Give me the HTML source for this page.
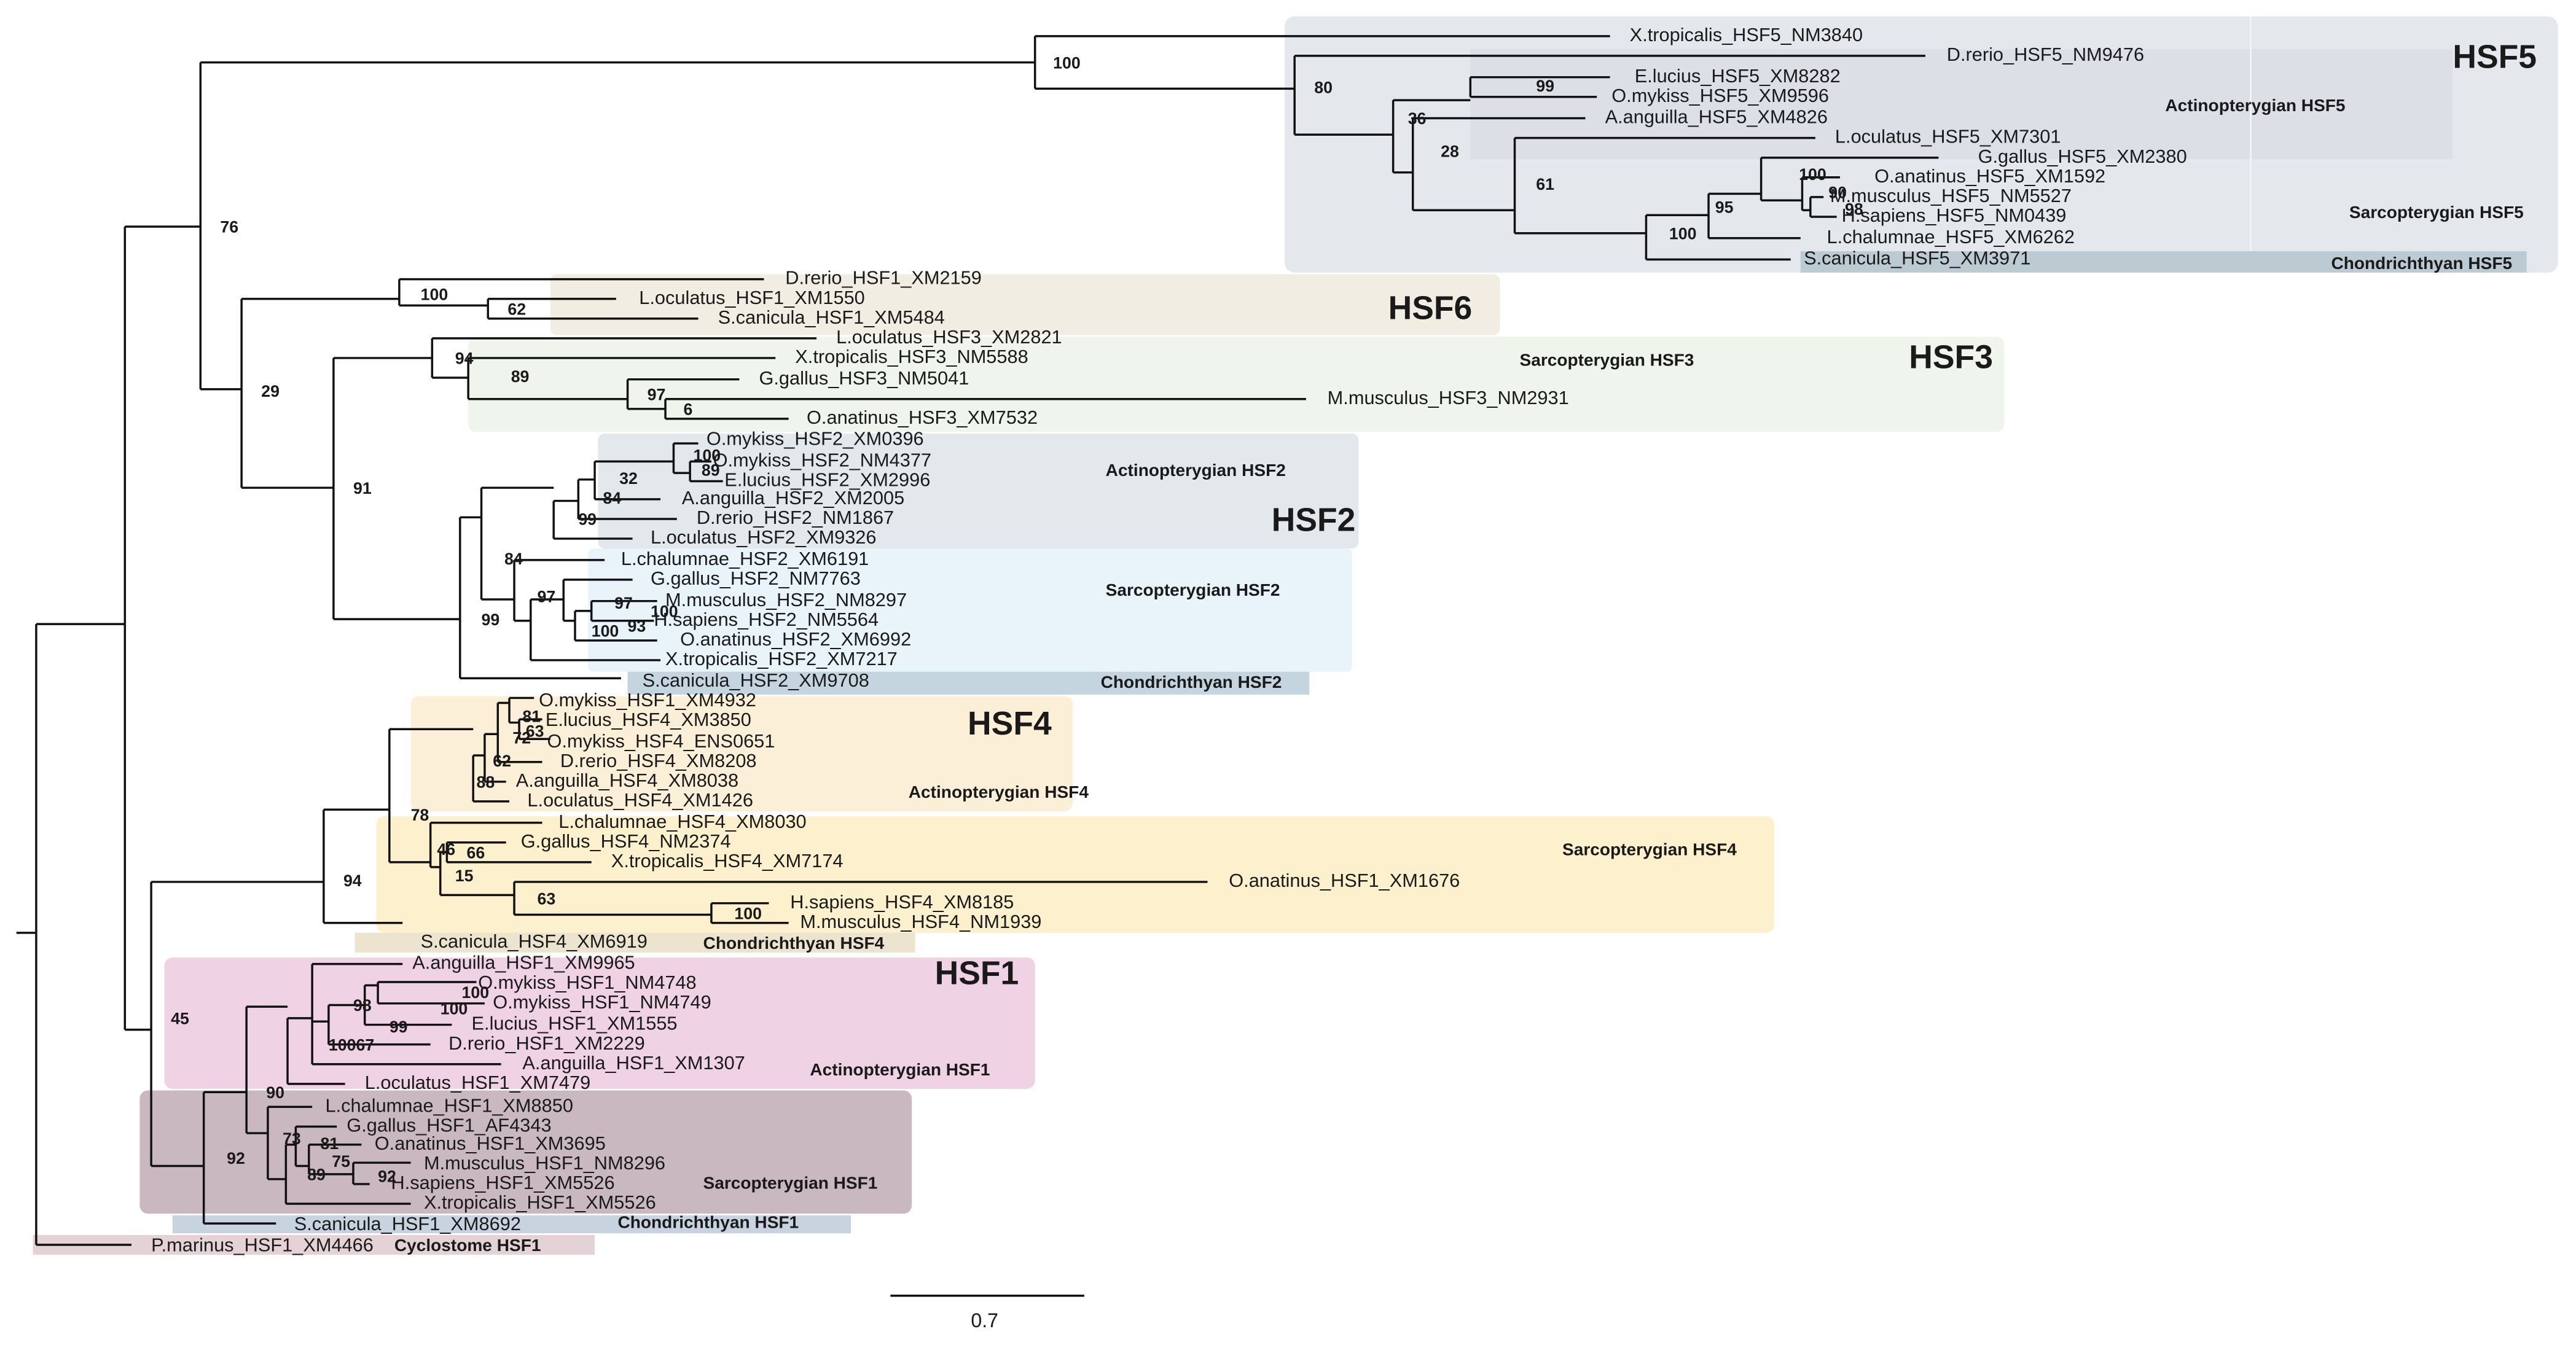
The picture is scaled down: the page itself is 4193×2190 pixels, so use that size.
<!DOCTYPE html>
<html><head><meta charset="utf-8"><style>
html,body{margin:0;padding:0;background:#fff;}
svg{display:block}
text{font-family:"Liberation Sans",Arial,sans-serif;fill:#1a1a1a;dominant-baseline:middle}
.l{font-size:11.5px}
.b{font-size:10px;font-weight:bold}
.r{font-size:10.5px;font-weight:bold}
.h{font-size:20px;font-weight:bold}
</style></head><body>
<svg width="4193" height="2190" viewBox="0 0 1568 819" xmlns="http://www.w3.org/2000/svg">
<rect x="0" y="0" width="1568" height="819" fill="#fff"/>
<!-- boxes -->
<rect x="782" y="10" width="775" height="156" rx="6" fill="#e4e8ec"/>
<rect x="895" y="30" width="598" height="67" fill="#dcdfe6"/>
<line x1="1370" y1="10" x2="1370" y2="166" stroke="#f2f4f6" stroke-width="1"/>
<rect x="1096" y="153" width="442" height="13" fill="#bccad3"/>
<rect x="335" y="167" width="578" height="37" rx="4" fill="#f1ede2"/>
<rect x="285" y="205" width="935" height="58" rx="5" fill="#eff4ec"/>
<rect x="364" y="264" width="463" height="70" rx="4" fill="#e2e8ec"/>
<rect x="358" y="334" width="465" height="75" rx="3" fill="#e8f3fa"/>
<rect x="382" y="409" width="415" height="14" fill="#c5d5df"/>
<rect x="250" y="424" width="403" height="70" rx="5" fill="#fcefd7"/>
<rect x="229" y="497" width="851" height="71" rx="5" fill="#fdf0cc"/>
<rect x="216" y="568" width="341" height="12" fill="#ece4cf"/>
<rect x="100" y="583" width="530" height="80" rx="5" fill="#efd2e3"/>
<rect x="85" y="664" width="470" height="75" rx="5" fill="#c9b8c0"/>
<rect x="105" y="740" width="413" height="11" fill="#c8d3e0"/>
<rect x="20" y="752" width="342" height="12" fill="#e4d2d6"/>
<!-- tree -->
<path fill="none" stroke="#111" stroke-width="1.3" d="
M10 568H22 M22 380V758 M22 380H76 M76 138V627 M76 138H122 M122 38V237 M122 38H630 M122 237H147
M147 182V297 M147 182H243 M147 297H203
M243 170V186 M243 170H465 M243 186H297 M297 182V194 M297 182H375 M297 194H425
M203 218V377 M203 218H263 M203 377H280
M263 206V230 M263 206H497 M263 230H285 M285 218V243 M285 218H472 M285 243H382 M382 231V249 M382 231H450 M382 249H405 M405 243V255 M405 243H795 M405 255H480
M280 315V413 M280 315H293 M280 413H378
M293 297V365 M293 297H337 M293 365H313
M313 341V378 M313 341H368 M313 378H323 M323 365V402 M323 402H402 M323 365H343 M343 353V378 M343 353H385 M343 378H350 M350 372V390 M350 372H360 M360 366V378 M360 366H400 M360 378H398 M350 390H400
M337 305V328 M337 328H385 M337 305H352 M352 292V316 M352 316H412 M352 292H362 M362 281V304 M362 304H402 M362 281H410 M410 270V288 M410 270H425 M410 288H420 M420 281V293 M420 281H433 M420 293H440
M630 22V54 M630 22H980 M630 54H788 M788 34V82 M788 34H1172 M788 82H848 M848 61V105 M848 61H895 M895 47V59 M895 47H980 M895 59H972 M848 105H860 M860 72V128 M860 72H965 M860 128H922 M922 84V142 M922 84H1105 M922 142H1002 M1002 131V158 M1002 158H1090 M1002 131H1040 M1040 118V145 M1040 145H1096 M1040 118H1072 M1072 96V122 M1072 96H1180 M1072 122H1097 M1097 108V128 M1097 108H1120 M1097 128H1102 M1102 120V132 M1102 120H1110 M1102 132H1118
M76 627H92 M92 537V710 M92 537H197 M92 710H124 M124 665V745 M124 745H168 M124 665H150 M150 613V690 M150 613H175 M150 690H163
M163 674V718 M163 674H190 M163 718H174 M174 697V733 M174 733H250 M174 697H180 M180 686V710 M180 686H205 M180 710H188 M188 697V715 M188 697H220 M188 715H215 M215 708V721 M215 708H250 M215 721H225
M175 620V660 M175 660H210 M175 620H190 M190 587V648 M190 587H245 M190 648H305 M190 622H200 M200 612V636 M200 636H262 M200 612H222 M222 600V624 M222 624H275 M222 600H230 M230 598V611 M230 598H290 M230 611H295
M197 493V562 M197 562H245 M197 493H237 M237 444V525 M237 444H288 M237 525H262
M262 501V528 M262 501H330 M262 528H268 M268 519V545 M268 519H272 M272 513V525 M272 513H308 M272 525H360 M268 545H313 M313 537V557 M313 537H735 M313 557H433 M433 550V562 M433 550H468 M433 562H480
M288 460V488 M288 488H310 M288 460H295 M295 447V476 M295 476H308 M295 447H303 M303 428V464 M303 464H330 M303 428H310 M310 425V440 M310 425H325 M310 440H316 M316 438V450 M316 438H330 M316 450H335
M22 758H80
M542 789H660"/>
<!-- leaf labels -->
<g class="l">
<text x="992" y="22">X.tropicalis_HSF5_NM3840</text>
<text x="1185" y="34">D.rerio_HSF5_NM9476</text>
<text x="995" y="47">E.lucius_HSF5_XM8282</text>
<text x="981" y="59">O.mykiss_HSF5_XM9596</text>
<text x="977" y="72">A.anguilla_HSF5_XM4826</text>
<text x="1117" y="84">L.oculatus_HSF5_XM7301</text>
<text x="1204" y="96">G.gallus_HSF5_XM2380</text>
<text x="1141" y="108">O.anatinus_HSF5_XM1592</text>
<text x="1114" y="120">M.musculus_HSF5_NM5527</text>
<text x="1121" y="132">H.sapiens_HSF5_NM0439</text>
<text x="1112" y="145">L.chalumnae_HSF5_XM6262</text>
<text x="1098" y="158">S.canicula_HSF5_XM3971</text>
<text x="478" y="170">D.rerio_HSF1_XM2159</text>
<text x="389" y="182">L.oculatus_HSF1_XM1550</text>
<text x="437" y="194">S.canicula_HSF1_XM5484</text>
<text x="509" y="206">L.oculatus_HSF3_XM2821</text>
<text x="484" y="218">X.tropicalis_HSF3_NM5588</text>
<text x="462" y="231">G.gallus_HSF3_NM5041</text>
<text x="808" y="243">M.musculus_HSF3_NM2931</text>
<text x="491" y="255">O.anatinus_HSF3_XM7532</text>
<text x="430" y="268">O.mykiss_HSF2_XM0396</text>
<text x="434" y="281">O.mykiss_HSF2_NM4377</text>
<text x="441" y="293">E.lucius_HSF2_XM2996</text>
<text x="415" y="304">A.anguilla_HSF2_XM2005</text>
<text x="424" y="316">D.rerio_HSF2_NM1867</text>
<text x="396" y="328">L.oculatus_HSF2_XM9326</text>
<text x="378" y="341">L.chalumnae_HSF2_XM6191</text>
<text x="396" y="353">G.gallus_HSF2_NM7763</text>
<text x="405" y="366">M.musculus_HSF2_NM8297</text>
<text x="398" y="378">H.sapiens_HSF2_NM5564</text>
<text x="414" y="390">O.anatinus_HSF2_XM6992</text>
<text x="405" y="402">X.tropicalis_HSF2_XM7217</text>
<text x="391" y="415">S.canicula_HSF2_XM9708</text>
<text x="328" y="427">O.mykiss_HSF1_XM4932</text>
<text x="332" y="439">E.lucius_HSF4_XM3850</text>
<text x="333" y="452">O.mykiss_HSF4_ENS0651</text>
<text x="341" y="464">D.rerio_HSF4_XM8208</text>
<text x="314" y="476">A.anguilla_HSF4_XM8038</text>
<text x="321" y="488">L.oculatus_HSF4_XM1426</text>
<text x="340" y="501">L.chalumnae_HSF4_XM8030</text>
<text x="317" y="513">G.gallus_HSF4_NM2374</text>
<text x="372" y="525">X.tropicalis_HSF4_XM7174</text>
<text x="748" y="537">O.anatinus_HSF1_XM1676</text>
<text x="481" y="550">H.sapiens_HSF4_XM8185</text>
<text x="487" y="562">M.musculus_HSF4_NM1939</text>
<text x="256" y="574">S.canicula_HSF4_XM6919</text>
<text x="251" y="587">A.anguilla_HSF1_XM9965</text>
<text x="291" y="599">O.mykiss_HSF1_NM4748</text>
<text x="300" y="611">O.mykiss_HSF1_NM4749</text>
<text x="287" y="624">E.lucius_HSF1_XM1555</text>
<text x="273" y="636">D.rerio_HSF1_XM2229</text>
<text x="318" y="648">A.anguilla_HSF1_XM1307</text>
<text x="222" y="660">L.oculatus_HSF1_XM7479</text>
<text x="198" y="674">L.chalumnae_HSF1_XM8850</text>
<text x="211" y="686">G.gallus_HSF1_AF4343</text>
<text x="228" y="697">O.anatinus_HSF1_XM3695</text>
<text x="258" y="709">M.musculus_HSF1_NM8296</text>
<text x="238" y="721">H.sapiens_HSF1_XM5526</text>
<text x="258" y="733">X.tropicalis_HSF1_XM5526</text>
<text x="179" y="746">S.canicula_HSF1_XM8692</text>
<text x="92" y="759">P.marinus_HSF1_XM4466</text>
</g>
<!-- bootstrap -->
<g class="b">
<text x="641" y="39">100</text><text x="134" y="139">76</text><text x="159" y="239">29</text>
<text x="256" y="180">100</text><text x="309" y="189">62</text><text x="215" y="298">91</text>
<text x="277" y="219">94</text><text x="311" y="230">89</text><text x="394" y="241">97</text><text x="416" y="250">6</text>
<text x="800" y="54">80</text><text x="935" y="53">99</text><text x="857" y="73">36</text><text x="877" y="93">28</text>
<text x="935" y="113">61</text><text x="1044" y="127">95</text><text x="1016" y="143">100</text>
<text x="1095" y="107">100</text><text x="1113" y="118">90</text><text x="1123" y="128">98</text>
<text x="377" y="292">32</text><text x="367" y="304">84</text><text x="352" y="317">99</text>
<text x="422" y="278">100</text><text x="427" y="287">89</text>
<text x="307" y="341">84</text><text x="327" y="364">97</text><text x="293" y="378">99</text>
<text x="374" y="368">97</text><text x="396" y="373">100</text><text x="360" y="385">100</text><text x="382" y="382">93</text>
<text x="318" y="437">81</text><text x="320" y="446">63</text><text x="312" y="450">72</text><text x="300" y="464">62</text><text x="290" y="477">88</text>
<text x="250" y="497">78</text><text x="266" y="518">46</text><text x="284" y="520">66</text><text x="277" y="534">15</text>
<text x="327" y="548">63</text><text x="447" y="557">100</text><text x="209" y="537">94</text>
<text x="104" y="621">45</text><text x="162" y="666">90</text><text x="138" y="706">92</text>
<text x="215" y="613">98</text><text x="237" y="626">99</text><text x="200" y="637">10067</text>
<text x="281" y="605">100</text><text x="268" y="615">100</text>
<text x="172" y="694">73</text><text x="195" y="697">81</text><text x="202" y="708">75</text><text x="187" y="716">89</text><text x="230" y="717">92</text>
</g>
<!-- region labels -->
<g class="r">
<text x="1318" y="65">Actinopterygian HSF5</text>
<text x="1430" y="130">Sarcopterygian HSF5</text>
<text x="1419" y="161">Chondrichthyan HSF5</text>
<text x="925" y="220">Sarcopterygian HSF3</text>
<text x="673" y="287">Actinopterygian HSF2</text>
<text x="673" y="360">Sarcopterygian HSF2</text>
<text x="670" y="416">Chondrichthyan HSF2</text>
<text x="553" y="483">Actinopterygian HSF4</text>
<text x="951" y="518">Sarcopterygian HSF4</text>
<text x="428" y="575">Chondrichthyan HSF4</text>
<text x="493" y="652">Actinopterygian HSF1</text>
<text x="428" y="721">Sarcopterygian HSF1</text>
<text x="376" y="745">Chondrichthyan HSF1</text>
<text x="240" y="759">Cyclostome HSF1</text>
</g>
<g class="h">
<text x="1493" y="36">HSF5</text>
<text x="845" y="189">HSF6</text>
<text x="1162" y="219">HSF3</text>
<text x="774" y="318">HSF2</text>
<text x="589" y="442">HSF4</text>
<text x="569" y="594">HSF1</text>
</g>
<text x="591" y="805" style="font-size:12px">0.7</text>
</svg>
</body></html>
